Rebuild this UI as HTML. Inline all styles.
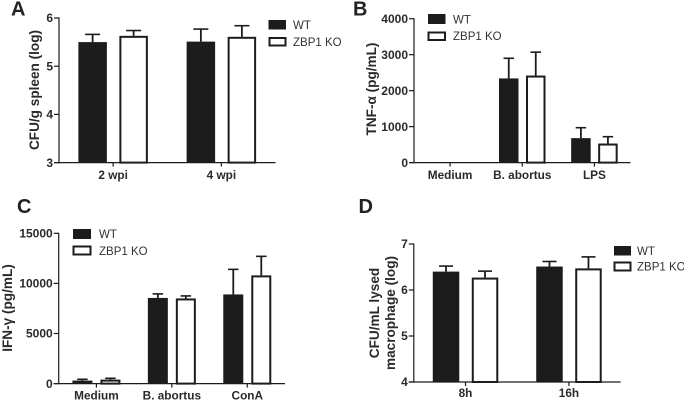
<!DOCTYPE html>
<html>
<head>
<meta charset="utf-8">
<style>
html,body{margin:0;padding:0;background:#fff;width:684px;height:400px;overflow:hidden}
svg{display:block;font-family:"Liberation Sans",sans-serif;filter:blur(0.3px)}
.tick,.xlab,.title{font-weight:bold;fill:#2a2a2a}
.tick{font-size:12px;text-anchor:end}
.xlab{font-size:11.8px;text-anchor:middle}
.title{font-size:13.6px;text-anchor:middle}
.leg{font-size:11.5px;fill:#333}
.letter{font-size:20px;font-weight:bold;fill:#222}
</style>
</head>
<body>
<svg id="figure" width="684" height="400" viewBox="0 0 684 400" xmlns="http://www.w3.org/2000/svg">
  <text class="letter" x="11" y="15.5">A</text>
  <text class="letter" x="353" y="15.5">B</text>
  <text class="letter" x="17" y="213">C</text>
  <text class="letter" x="358.5" y="213">D</text>

  <text class="title" transform="translate(39 90) rotate(-90)">CFU/g spleen (log)</text>
  <text class="title" transform="translate(376 89) rotate(-90)">TNF-α (pg/mL)</text>
  <text class="title" transform="translate(12 308) rotate(-90)">IFN-γ (pg/mL)</text>
  <text class="title" transform="translate(379 313) rotate(-90)">CFU/mL lysed</text>
  <text class="title" transform="translate(395 313) rotate(-90)">macrophage (log)</text>

  <g>
    <rect x="269" y="20.5" width="16.5" height="8.5" fill="#1c1c1c" stroke="#1c1c1c"/>
    <text class="leg" x="293" y="29">WT</text>
    <rect x="269.5" y="38" width="16" height="7.5" fill="#fff" stroke="#1c1c1c" stroke-width="2"/>
    <text class="leg" x="293" y="46">ZBP1 KO</text>
  </g>
  <g>
    <rect x="428.5" y="14.5" width="16.5" height="9" fill="#1c1c1c" stroke="#1c1c1c"/>
    <text class="leg" x="453" y="23.5">WT</text>
    <rect x="428.5" y="32.5" width="16.5" height="7.5" fill="#fff" stroke="#1c1c1c" stroke-width="2"/>
    <text class="leg" x="453" y="40">ZBP1 KO</text>
  </g>
  <g>
    <rect x="73.5" y="229.5" width="17" height="9" fill="#1c1c1c" stroke="#1c1c1c"/>
    <text class="leg" x="99" y="238">WT</text>
    <rect x="73.5" y="246.5" width="17" height="8" fill="#fff" stroke="#1c1c1c" stroke-width="2"/>
    <text class="leg" x="99" y="255">ZBP1 KO</text>
  </g>
  <g>
    <rect x="614.5" y="246.5" width="16" height="8.5" fill="#1c1c1c" stroke="#1c1c1c"/>
    <text class="leg" x="637" y="255">WT</text>
    <rect x="614.5" y="262.5" width="16" height="8" fill="#fff" stroke="#1c1c1c" stroke-width="2"/>
    <text class="leg" x="637" y="270.5">ZBP1 KO</text>
  </g>
</svg>
<script>
// Panel A data
var aCategories = ['2 wpi', '4 wpi'];
var aTicks = [3, 4, 5, 6];
var aWt = [5.5, 5.51];
var aWtErr = [0.16, 0.26];
var aKo = [5.63, 5.61];
var aKoErr = [0.11, 0.23];

// Panel B data
var bCategories = ['Medium', 'B. abortus', 'LPS'];
var bTicks = [0, 1000, 2000, 3000, 4000];
var bWt = [0, 2340, 680];
var bWtErr = [0, 560, 290];
var bKo = [0, 2420, 530];
var bKoErr = [0, 650, 190];

// Panel C data
var cCategories = ['Medium', 'B. abortus', 'ConA'];
var cTicks = [0, 5000, 10000, 15000];
var cWt = [300, 8550, 8900];
var cWtErr = [130, 400, 2500];
var cKo = [400, 8500, 10800];
var cKoErr = [130, 250, 1900];

// Panel D data
var dCategories = ['8h', '16h'];
var dTicks = [4, 5, 6, 7];
var dWt = [6.4, 6.51];
var dWtErr = [0.12, 0.11];
var dKo = [6.27, 6.47];
var dKoErr = [0.14, 0.25];

var svg = document.getElementById('figure');
var NS = 'http://www.w3.org/2000/svg';
var INK = '#1c1c1c';

function make(tag, attrs, parent) {
  var el = document.createElementNS(NS, tag);
  for (var k in attrs) el.setAttribute(k, attrs[k]);
  parent.appendChild(el);
  return el;
}

function drawPanel(p) {
  var g = make('g', {}, svg);
  
  

  var min = p.ticks[0];
  var max = p.ticks[p.ticks.length - 1];
  function yScale(v) {
    return p.bottom - (v - min) / (max - min) * (p.bottom - p.top);
  }
  var step = (p.right - p.left) / p.categories.length;
  function xCenter(i) {
    return p.left + step * (i + 0.5);
  }

  function drawBar(value, err, cx, series, i) {
    if (value <= min) return;
    var x0 = cx - p.barWidth / 2;
    var top = yScale(value);
    var errTop = yScale(value + err);
    var cap = p.capWidth / 2;

    var stem = make('line', {x1: cx, x2: cx, y1: top, y2: errTop, stroke: INK, 'stroke-width': 1.8}, g);
    
    

    var capLine = make('line', {x1: cx - cap, x2: cx + cap, y1: errTop, y2: errTop, stroke: INK, 'stroke-width': 1.6}, g);
    
    

    var isKo = series === 'ko';
    var inset = isKo ? 1 : 0;
    var bar = make('rect', {
      x: x0 + inset,
      y: top + inset,
      width: p.barWidth - 2 * inset,
      height: Math.max(0, p.bottom - top - inset),
      fill: isKo ? '#fff' : INK,
      stroke: isKo ? INK : 'none',
      'stroke-width': isKo ? 2 : 0
    }, g);
    
    
  }

  p.categories.forEach(function (cat, i) {
    var cx = xCenter(i);
    drawBar(p.wt[i], p.wtErr[i], cx - p.offset, 'wt', i);
    drawBar(p.ko[i], p.koErr[i], cx + p.offset, 'ko', i);
  });

  var yAxis = make('line', {x1: p.left, x2: p.left, y1: p.top - 0.6, y2: p.bottom + 0.6, stroke: INK, 'stroke-width': 1.2}, g);
  
  

  var xAxis = make('line', {x1: p.left - 5, x2: p.right, y1: p.bottom, y2: p.bottom, stroke: INK, 'stroke-width': 1.2}, g);
  
  

  p.ticks.forEach(function (t) {
    var y = yScale(t);
    var mark = make('line', {x1: p.left - 5, x2: p.left, y1: y, y2: y, stroke: INK, 'stroke-width': 1.2}, g);
    
    

    var label = make('text', {x: p.left - 6, y: y + 4.2, 'class': 'tick'}, g);
    label.textContent = String(t);
    
    
  });

  p.categories.forEach(function (cat, i) {
    var cx = xCenter(i);
    var mark = make('line', {x1: cx, x2: cx, y1: p.bottom, y2: p.bottom + 4, stroke: INK, 'stroke-width': 1.2}, g);
    
    

    var label = make('text', {x: cx, y: p.labelY, 'class': 'xlab'}, g);
    label.textContent = cat;
    
    
  });
}

drawPanel({
  id: 'panel-a', categories: aCategories, ticks: aTicks, wt: aWt, wtErr: aWtErr, ko: aKo, koErr: aKoErr,
  left: 59, right: 275.5, top: 18, bottom: 162.6, barWidth: 28.5, offset: 20.5, capWidth: 15, labelY: 179
});
drawPanel({
  id: 'panel-b', categories: bCategories, ticks: bTicks, wt: bWt, wtErr: bWtErr, ko: bKo, koErr: bKoErr,
  left: 414, right: 630.5, top: 18.7, bottom: 162.6, barWidth: 19.5, offset: 13.5, capWidth: 10.5, labelY: 179
});
drawPanel({
  id: 'panel-c', categories: cCategories, ticks: cTicks, wt: cWt, wtErr: cWtErr, ko: cKo, koErr: cKoErr,
  left: 58.7, right: 285, top: 233.3, bottom: 383.6, barWidth: 20, offset: 14, capWidth: 10.5, labelY: 399.5
});
drawPanel({
  id: 'panel-d', categories: dCategories, ticks: dTicks, wt: dWt, wtErr: dWtErr, ko: dKo, koErr: dKoErr,
  left: 413.8, right: 620.7, top: 244, bottom: 382, barWidth: 26.5, offset: 19.5, capWidth: 14, labelY: 397
});
</script>
</body>
</html>
